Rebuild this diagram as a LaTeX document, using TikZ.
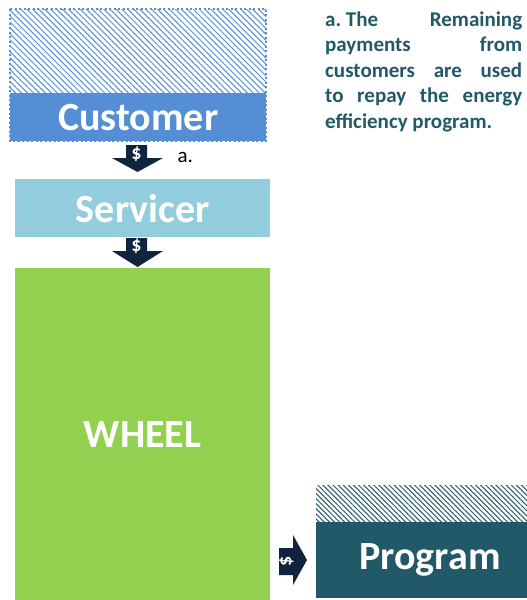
\documentclass[tikz,border=0pt]{standalone}
\usepackage{fontspec}
\setmainfont{Carlito}
\usetikzlibrary{patterns.meta}
\definecolor{custblue}{HTML}{558ED5}
\definecolor{servblue}{HTML}{93CDDD}
\definecolor{wheelgreen}{HTML}{92D050}
\definecolor{progteal}{HTML}{215968}
\definecolor{arrownavy}{HTML}{10243E}
\tikzstyle{box} = [anchor=north west, inner sep=0pt, text=white, font=\bfseries\fontsize{40}{44}\selectfont]
\tikzstyle{dollar} = [inner sep=0pt, text=white, font=\bfseries\fontsize{20}{22}\selectfont]

\begin{document}
\frenchspacing
\begin{tikzpicture}[x=1pt,y=-1pt]
      \useasboundingbox (0,0) rectangle (527,600);
      % customer
      \fill[pattern={Lines[angle=-45,distance=4.2pt,line width=1pt]}, pattern color=custblue] (10,9) rectangle (266,93);
      \node[box, fill=custblue, minimum width=256pt, minimum height=48pt] (customer) at (10,93) {Customer};
      \draw[custblue, line width=1.2pt, dash pattern=on 2pt off 2.5pt] (10,9) rectangle (266,141);
      % servicer and wheel
      \node[box, fill=servblue, minimum width=255pt, minimum height=58pt] (servicer) at (15,179) {Servicer};
      \node[box, fill=wheelgreen, minimum width=255pt, minimum height=332pt] (wheel) at (15,268) {WHEEL};
      % program
      \fill[pattern={Lines[angle=-45,distance=3.6pt,line width=1pt]}, pattern color=progteal] (316,485) rectangle (527,522);
      \fill[progteal]       (316,522) rectangle (527,598);
      \node[box, anchor=center] (program) at (430,560) {Program};
      % payment arrows
      \fill[arrownavy] (126,145) -- (147,145) -- (147,158) -- (163,158) -- (137.5,172) -- (112,158) -- (126,158) -- cycle;
      \node[dollar] (pay1) at (136.5,154) {\$};
      \node[font=\fontsize{21}{22}\selectfont, anchor=west] (notea) at (174,157) {a.};
      \fill[arrownavy] (126,238) -- (147,238) -- (147,251) -- (163,251) -- (137.5,267) -- (112,251) -- (126,251) -- cycle;
      \node[dollar] (pay2) at (136.5,246) {\$};
      \fill[arrownavy] (279,548) -- (293,548) -- (293,535) -- (307,560) -- (293,585) -- (293,575) -- (279,575) -- cycle;
      \node[dollar, rotate=90] (pay3) at (286,561.5) {\$};
      % note
      \node[anchor=north west, inner sep=0pt, text width=197pt, align=justify, text=progteal,
            font=\bfseries\fontsize{21}{25.5}\selectfont] (note) at (325,11.5)
            {\mbox{a. The} Remaining\linebreak payments from\linebreak customers are used\linebreak to repay the energy\linebreak efficiency program.};
\end{tikzpicture}
\end{document}
